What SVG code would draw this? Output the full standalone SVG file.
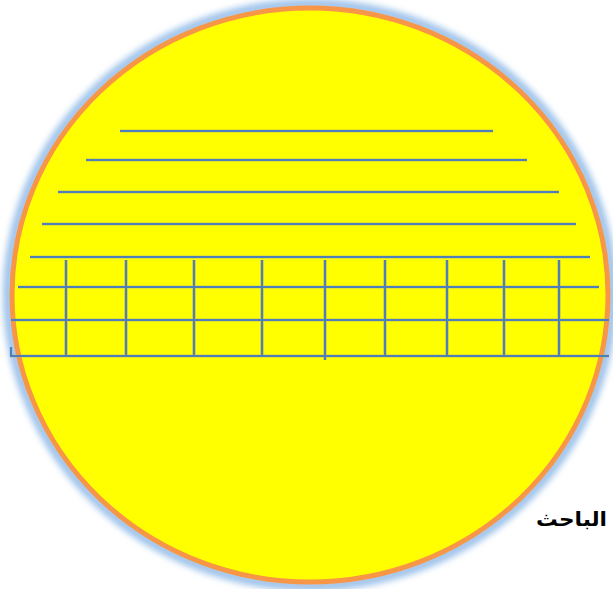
<svg xmlns="http://www.w3.org/2000/svg" width="613" height="589" viewBox="0 0 613 589">
  <defs>
    <filter id="glow" x="-10%" y="-10%" width="120%" height="120%">
      <feGaussianBlur stdDeviation="3"/>
    </filter>
  </defs>
  <style>
    .ln { stroke: #4f7fbb; stroke-width: 2.2; fill: none; stroke-linecap: butt; }
    .sh { stroke: #b5b56a; stroke-width: 3.6; fill: none; opacity: 0.45; }
    .lbl { font-family: "DejaVu Sans", "Liberation Sans", sans-serif; font-weight: bold; font-size: 20px; fill: #000; }
  </style>
  <rect width="613" height="589" fill="#ffffff"/>
  <g id="disc">
    <ellipse cx="310" cy="295" rx="302" ry="291" fill="none" stroke="#9ec2ea" stroke-width="10" filter="url(#glow)"/>
    <ellipse cx="310" cy="295" rx="298" ry="287" fill="#ffff00" stroke="#f79646" stroke-width="5"/>
  </g>
  <g id="lines">
    <g class="sh">
      <path d="M120 131H493M86 160H527M58 192H559M42 224H576M30 257H590M18 287H599M11 320H609M10 356H609"/>
      <path d="M66 260V355M126 260V355M194 260V355M262 260V355M325 260V360M385 260V355M447 260V355M504 260V355M559 260V355"/>
    </g>
    <g class="ln">
      <path d="M120 131H493M86 160H527M58 192H559M42 224H576M30 257H590M18 287H599M11 320H609M10 356H609M11 356V347"/>
      <path d="M66 260V355M126 260V355M194 260V355M262 260V355M325 260V360M385 260V355M447 260V355M504 260V355M559 260V355"/>
    </g>
  </g>
  <g id="caption">
    <text class="lbl" x="536" y="526" textLength="71" lengthAdjust="spacingAndGlyphs">الباحث</text>
  </g>
</svg>
